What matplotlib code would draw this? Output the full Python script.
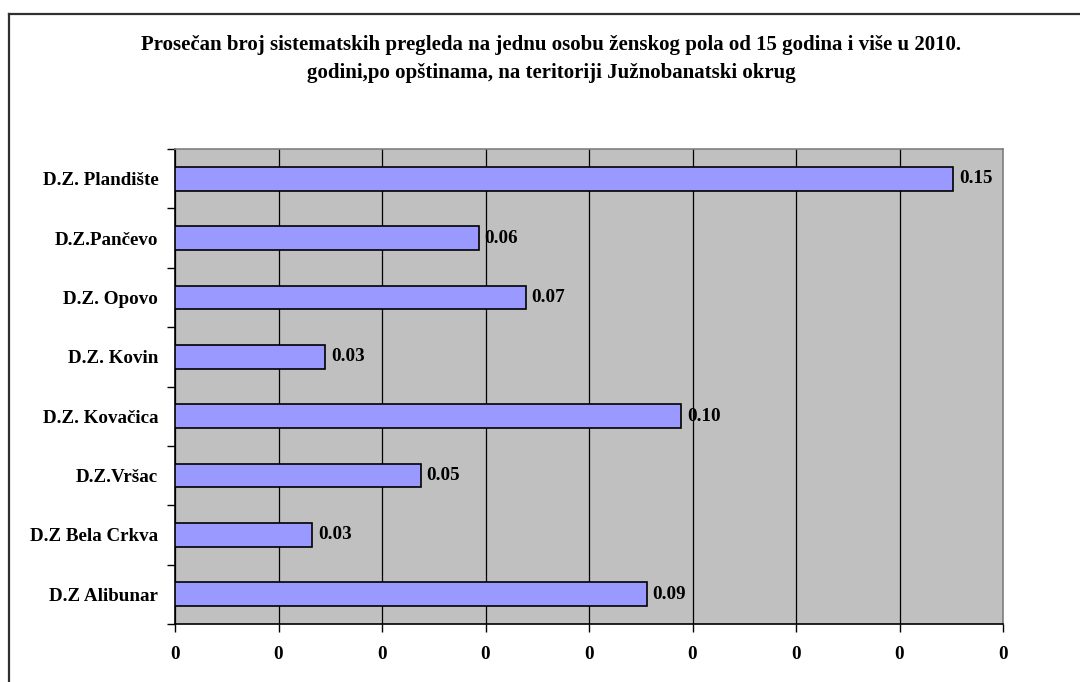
import matplotlib.pyplot as plt
import numpy as np
from matplotlib.lines import Line2D
from matplotlib.ticker import FixedLocator, FormatStrFormatter

# Data (bottom to top, as drawn)
ustanove = ['D.Z Alibunar', 'D.Z Bela Crkva', 'D.Z.Vršac', 'D.Z. Kovačica',
            'D.Z. Kovin', 'D.Z. Opovo', 'D.Z.Pančevo', 'D.Z. Plandište']
vrednosti = [0.0912, 0.0265, 0.0475, 0.0978, 0.0290, 0.0678, 0.0587, 0.1504]
x_ticks = [0, 0.02, 0.04, 0.06, 0.08, 0.10, 0.12, 0.14, 0.16]

naslov = ('Prosečan broj sistematskih pregleda na jednu osobu ženskog pola od 15 godina i više u 2010.\n'
          'godini,po opštinama, na teritoriji Južnobanatski okrug')

plt.rcParams['font.family'] = ['Liberation Serif', 'DejaVu Serif']
plt.rcParams['font.weight'] = 'bold'
fs = 13.7

fig = plt.figure(figsize=(10.8, 6.82), dpi=100)
ax = fig.add_axes([175 / 1080, 1 - 624 / 682, 828 / 1080, 475 / 682])

y = np.arange(len(ustanove))
bars = ax.barh(y, vrednosti, height=0.4, color='#9999ff', edgecolor='black',
               linewidth=1.2, zorder=3)

for b, v in zip(bars, vrednosti):
    ax.text(b.get_width() + 0.0011, b.get_y() + b.get_height() / 2, f'{v:.2f}',
            va='center', ha='left', fontsize=fs, fontweight='bold', zorder=4)

ax.set_facecolor('#c0c0c0')
ax.set_xlim(0, 0.16)
ax.set_ylim(-0.5, len(ustanove) - 0.5)

ax.set_xticks(x_ticks)
ax.xaxis.set_major_formatter(FormatStrFormatter('%.0f'))
ax.grid(axis='x', color='black', linewidth=0.9, zorder=1)
ax.set_axisbelow(True)

ax.set_yticks(y)
ax.set_yticklabels(ustanove)
ax.yaxis.set_minor_locator(FixedLocator(np.arange(-0.5, len(ustanove), 1.0)))
ax.tick_params(axis='y', which='major', length=0, pad=12, labelsize=fs)
ax.tick_params(axis='y', which='minor', length=6, width=1, color='black')
ax.tick_params(axis='x', which='major', length=6, width=1, pad=10, labelsize=fs)

for s in ['top', 'right']:
    ax.spines[s].set_color('#808080')
    ax.spines[s].set_linewidth(1.2)
for s in ['left', 'bottom']:
    ax.spines[s].set_color('black')
    ax.spines[s].set_linewidth(1.2)

fig.text(551 / 1080, 1 - 59 / 682, naslov, ha='center', va='center',
         fontsize=15, fontweight='bold', linespacing=1.5)

# outer chart frame
fig.add_artist(Line2D([8.5 / 1080, 1.0], [1 - 14 / 682, 1 - 14 / 682],
                      transform=fig.transFigure, color='#303030', linewidth=1.6))
fig.add_artist(Line2D([8.5 / 1080, 8.5 / 1080], [0.0, 1 - 14 / 682],
                      transform=fig.transFigure, color='#303030', linewidth=1.6))

fig.savefig('out.png', dpi=100)
